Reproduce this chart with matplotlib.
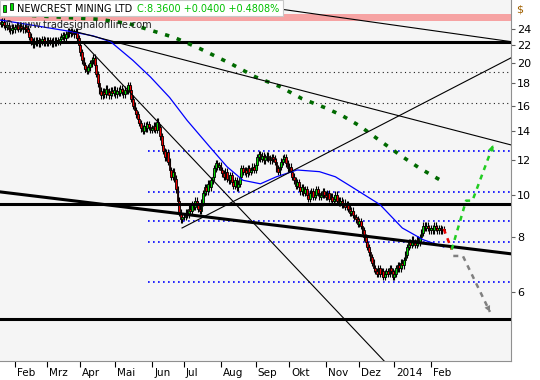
import numpy as np
import pandas as pd
import matplotlib
matplotlib.use("Agg")
import matplotlib.pyplot as plt
from matplotlib.patches import Rectangle
from matplotlib import transforms

# daily closes, one list per month (21 Jan 2013 .. 11 Feb 2014)
close_jan13 = [24.6, 24.9, 24.5, 24.2, 24.4, 24.0, 23.8, 24.1, 23.9]
close_feb13 = [24.2, 24.4, 24.0, 24.3, 24.1, 23.9, 24.2, 24.0, 23.6, 23.0,
               22.4, 22.1, 22.5, 22.3, 22.6, 22.2, 22.4, 22.7, 22.3, 22.5]
close_mar13 = [22.3, 22.6, 22.4, 22.2, 22.5, 22.3, 22.6, 22.4, 22.7, 23.0,
               23.2, 22.9, 23.3, 23.6, 23.4, 23.7, 23.5, 23.3, 23.6, 22.8, 22.0]
close_apr13 = [21.2, 20.3, 19.8, 19.4, 19.2, 19.6, 20.0, 20.3, 20.6, 19.8, 18.9,
               18.0, 17.3, 16.9, 17.2, 17.0, 17.5, 17.2, 16.9, 17.3, 17.1, 17.4]
close_may13 = [17.0, 17.3, 17.1, 17.5, 17.2, 17.0, 17.4, 17.3, 17.8, 17.4, 16.6, 16.0,
               15.6, 15.3, 14.9, 14.6, 14.2, 14.0, 14.4, 14.2, 14.5, 14.3, 14.1]
close_jun13 = [14.2, 14.4, 14.1, 14.7, 14.3, 13.6, 13.0, 12.6, 12.2, 12.5,
               11.9, 11.4, 11.0, 11.3, 10.9, 10.3, 9.7, 9.1, 8.8, 8.9]
close_jul13 = [8.9, 9.1, 9.0, 9.3, 9.2, 9.5, 9.4, 9.7, 9.5, 9.3, 9.2, 9.6,
               10.1, 10.4, 10.2, 10.6, 10.4, 10.8, 11.0, 11.5, 11.8, 11.6, 11.7]
close_aug13 = [11.4, 11.2, 11.0, 11.3, 10.9, 10.8, 11.1, 10.7, 10.5, 10.8, 10.4,
               10.6, 11.0, 11.5, 11.3, 11.4, 11.2, 11.5, 11.3, 11.4, 11.6, 11.4]
close_sep13 = [11.7, 12.2, 12.4, 12.1, 12.3, 12.0, 12.2, 12.3, 12.1, 12.0, 12.2,
               12.1, 11.9, 11.5, 11.3, 11.6, 11.9, 12.1, 12.2, 11.8, 11.5]
close_oct13 = [11.6, 11.3, 11.0, 10.8, 10.5, 10.7, 10.4, 10.2, 10.4, 10.1, 10.3, 10.0,
               9.8, 10.1, 10.2, 9.9, 10.0, 10.3, 10.1, 9.9, 10.0, 10.2, 10.0]
close_nov13 = [9.9, 10.1, 9.8, 9.9, 9.7, 9.8, 10.0, 9.7, 9.6, 9.7, 9.5,
               9.6, 9.4, 9.5, 9.3, 9.1, 9.2, 9.0, 8.9, 8.8, 8.6]
close_dec13 = [8.7, 8.5, 8.3, 8.0, 7.8, 7.6, 7.4, 7.2, 7.0, 6.8, 6.7,
               6.6, 6.8, 6.6, 6.7, 6.5, 6.6, 6.7, 6.6, 6.8, 6.7, 6.5]
close_jan14 = [6.6, 6.8, 6.9, 6.8, 7.0, 6.9, 7.1, 7.3, 7.6, 7.8, 7.7, 7.9,
               7.8, 7.7, 7.9, 7.8, 8.0, 8.2, 8.5, 8.4, 8.5, 8.4, 8.3]
close_feb14 = [8.4, 8.3, 8.5, 8.4, 8.3, 8.4, 8.3, 8.32, 8.36]
first_open = 24.8
wick = 0.018

month_labels = ['Feb', 'Mrz', 'Apr', 'Mai', 'Jun', 'Jul', 'Aug', 'Sep',
                'Okt', 'Nov', 'Dez', '2014', 'Feb']
price_ticks = [6, 8, 10, 12, 14, 16, 18, 20, 22, 24]

# moving averages (bar number, price)
ma_fast_bar = [0, 12, 42, 58, 69, 83, 94, 106, 117, 131, 142, 152, 163, 173,
               186, 200, 210, 219, 238, 252, 265, 278]
ma_fast_val = [25.1, 24.7, 23.7, 23.1, 22.4, 20.3, 18.6, 16.7, 14.8, 12.9, 11.6,
               10.8, 10.6, 11.0, 11.4, 11.3, 11.0, 10.5, 9.5, 8.4, 7.9, 7.6]
ma_slow_bar = [12, 37, 62, 81, 94, 109, 125, 145, 160, 175, 189, 204, 214,
               225, 238, 251, 263, 276]
ma_slow_val = [25.8, 25.5, 25.2, 24.6, 23.8, 22.9, 21.6, 19.9, 18.6, 17.7, 16.6,
               15.8, 15.2, 14.4, 13.3, 12.3, 11.5, 10.8]

# drawn levels and trendlines (bar number, price)
band_low, band_high = 25.0, 25.9
thick_levels = [22.4, 9.54, 5.21]
black_dotted = [19.1, 16.2]
blue_dotted = [12.6, 10.16, 8.72, 7.81, 6.33]
blue_dotted_start = 92.4
thin_lines = [((60, 30.5), (320.5, 22.4)),
              ((43.5, 23.8), (320.5, 13.0)),
              ((51, 22.4), (250.5, 3.82)),
              ((113.8, 8.40), (320.5, 20.6))]
thick_line = ((-0.5, 10.16), (320.5, 7.33))
proj_red = ([278, 283], [8.36, 7.5])
proj_up = ([283, 292, 296, 309], [7.5, 9.7, 9.7, 13.0])
proj_down = ([284, 290, 307], [7.25, 7.25, 5.4])

closes = np.array(close_jan13 + close_feb13 + close_mar13 + close_apr13 + close_may13 +
                  close_jun13 + close_jul13 + close_aug13 + close_sep13 + close_oct13 +
                  close_nov13 + close_dec13 + close_jan14 + close_feb14)
opens = np.concatenate([[first_open], closes[:-1]])
highs = np.maximum(opens, closes) * (1 + wick)
lows = np.minimum(opens, closes) * (1 - wick)
dates = pd.bdate_range("2013-01-21", periods=len(closes))
bars = np.arange(len(closes))

fig = plt.figure(figsize=(5.4, 3.8), dpi=100)
ax = fig.add_axes([0, 19 / 380, 511 / 540, 361 / 380])
ax.set_facecolor('#F5F5F5')
ax.set_yscale('log')
ax.set_xlim(-0.41, 320.2)
ax.set_ylim(4.17, 27.9)

# levels
ax.axhspan(band_low, band_high, color='#F6A3A3', lw=0, zorder=1)
for lv in black_dotted:
    ax.axhline(lv, color='#202020', lw=0.8, ls=(0, (1, 3)), zorder=1)
for lv in blue_dotted:
    ax.plot([blue_dotted_start, 330], [lv, lv], color='#0000FF', lw=1.2,
            ls=(0, (1, 2)), zorder=1)
for lv in thick_levels:
    ax.axhline(lv, color='black', lw=2.2, zorder=4)

# candles
up = closes >= opens
body_lo = np.minimum(opens, closes)
body_hi = np.maximum(opens, closes)
ax.vlines(bars, lows, highs, color='black', lw=0.8, zorder=3)
ax.bar(bars, body_hi - body_lo, bottom=body_lo, width=1.1,
       color=np.where(up, '#00DD00', '#EE0000'), edgecolor='black', lw=0.6, zorder=3)

# moving averages
ax.plot(ma_fast_bar, ma_fast_val, color='#0000FF', lw=0.9, zorder=4)
ax.plot(ma_slow_bar, ma_slow_val, color='#006A00', lw=2.6, ls=(0, (1.2, 2.2)), zorder=4)

# trendlines
for (x1, y1), (x2, y2) in thin_lines:
    ax.plot([x1, x2], [y1, y2], color='black', lw=0.8, zorder=4)
ax.plot([thick_line[0][0], thick_line[1][0]], [thick_line[0][1], thick_line[1][1]],
        color='black', lw=2.2, zorder=4)

# projections
ax.plot(*proj_red, color='#EE0000', lw=1.8, ls=(0, (2, 2)), zorder=5)
ax.plot(*proj_up, color='#22CC22', lw=1.8, ls=(0, (2, 2)), zorder=5)
ax.plot(*proj_down, color='#808080', lw=1.8, ls=(0, (2, 2)), zorder=5)
for xs, ys, col in [(proj_up[0], proj_up[1], '#22CC22'),
                    (proj_down[0], proj_down[1], '#808080')]:
    ax.annotate('', xy=(xs[-1], ys[-1]), xytext=(xs[-2], ys[-2]), zorder=5,
                arrowprops=dict(arrowstyle='-|>', color=col, lw=0, mutation_scale=11,
                                shrinkA=0, shrinkB=0))

# axes
ax.yaxis.tick_right()
ax.yaxis.set_minor_locator(matplotlib.ticker.NullLocator())
ax.set_yticks(price_ticks)
ax.set_yticklabels([str(v) for v in price_ticks])
ax.tick_params(axis='y', length=3, width=0.8, pad=1.5, labelsize=8, color='#606060')

month_pos = [k for k in range(1, len(dates)) if dates[k].month != dates[k - 1].month]
ax.set_xticks(month_pos)
ax.set_xticklabels([])
ax.tick_params(axis='x', length=4, width=0.8, color='black')
blend = transforms.blended_transform_factory(ax.transData, ax.transAxes)
lab_tr = transforms.offset_copy(blend, fig=fig, x=2, y=0, units='dots')
for pos, lab in zip(month_pos, month_labels):
    ax.text(pos, -12 / 361, lab, transform=lab_tr, ha='left', va='center', fontsize=7.5)

for side in ['top', 'left']:
    ax.spines[side].set_visible(False)
for side in ['right', 'bottom']:
    ax.spines[side].set_color('#909090')

fig.text(516 / 540, 1 - 10 / 380, '$', fontsize=8, color='#A06000', va='center')

# title box
ax.add_patch(Rectangle((0, 1 - 16 / 361), 283 / 511, 16 / 361, transform=ax.transAxes,
                       fc='white', ec='#C8C8C8', lw=0.8, zorder=10, clip_on=False))
for x0, y0, h in [(3, 5, 7), (10, 3, 7)]:
    ax.add_patch(Rectangle((x0 / 511, 1 - (y0 + h) / 361), 3 / 511, h / 361,
                           transform=ax.transAxes, fc='#00DD00', ec='black', lw=0.5,
                           zorder=11, clip_on=False))
ax.text(17 / 511, 1 - 8.5 / 361, 'NEWCREST MINING LTD', transform=ax.transAxes,
        ha='left', va='center', fontsize=7, zorder=11)
ax.text(137 / 511, 1 - 8.5 / 361, 'C:8.3600 +0.0400 +0.4808%', transform=ax.transAxes,
        ha='left', va='center', fontsize=7, color='#00C000', zorder=11)
ax.text(4 / 511, 1 - 25 / 361, '\u00a9 www.tradesignalonline.com', transform=ax.transAxes,
        ha='left', va='center', fontsize=7, color='#202020', zorder=9)

fig.savefig('out.png', dpi=100)
